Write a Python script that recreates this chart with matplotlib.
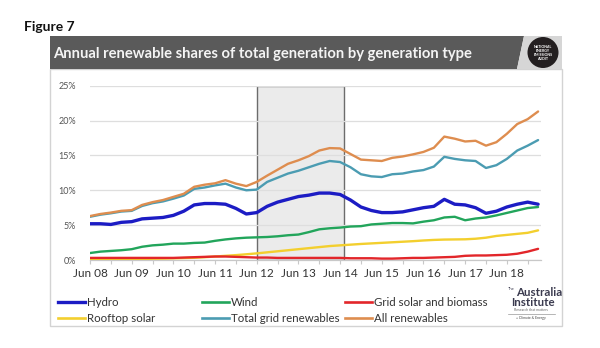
import numpy as np
import matplotlib
matplotlib.use("Agg")
import matplotlib.pyplot as plt
from matplotlib.patches import Polygon, Rectangle, Circle
from matplotlib.lines import Line2D

plt.rcParams['font.family'] = ['Lato', 'DejaVu Sans']

# quarterly points, Jun 08 .. Mar 19 (years after Jun 2008)
quarters = np.arange(44) / 4

hydro = [5.2, 5.2, 5.1, 5.4, 5.5, 5.9, 6.0, 6.1, 6.4, 7.0,
         7.9, 8.1, 8.1, 8.0, 7.4, 6.6, 6.8, 7.7, 8.3, 8.7,
         9.1, 9.3, 9.6, 9.6, 9.4, 8.6, 7.6, 7.1, 6.8, 6.8,
         6.9, 7.2, 7.5, 7.7, 8.7, 8.0, 7.9, 7.5, 6.7, 7.0,
         7.6, 8.0, 8.3, 8.0]
wind = [1.0, 1.2, 1.3, 1.4, 1.55, 1.9, 2.1, 2.2, 2.35, 2.35,
        2.45, 2.5, 2.75, 2.95, 3.1, 3.2, 3.25, 3.3, 3.4, 3.55,
        3.65, 4.0, 4.4, 4.55, 4.65, 4.8, 4.85, 5.1, 5.2, 5.3,
        5.3, 5.25, 5.5, 5.7, 6.1, 6.2, 5.7, 5.95, 6.1, 6.4,
        6.75, 7.1, 7.45, 7.6]
grid_solar = [0.3, 0.3, 0.3, 0.3, 0.3, 0.3, 0.3, 0.3, 0.3, 0.35,
              0.4, 0.45, 0.5, 0.5, 0.45, 0.4, 0.35, 0.35, 0.3, 0.3,
              0.3, 0.3, 0.3, 0.3, 0.3, 0.25, 0.25, 0.25, 0.2, 0.2,
              0.25, 0.3, 0.3, 0.35, 0.4, 0.45, 0.6, 0.65, 0.65, 0.7,
              0.75, 0.9, 1.2, 1.6]
rooftop = [0.05, 0.06, 0.08, 0.1, 0.12, 0.15, 0.18, 0.2, 0.24, 0.28,
           0.32, 0.4, 0.5, 0.6, 0.7, 0.82, 0.95, 1.1, 1.25, 1.4,
           1.55, 1.7, 1.85, 2.0, 2.1, 2.2, 2.3, 2.38, 2.46, 2.54,
           2.62, 2.7, 2.8, 2.88, 2.93, 2.95, 2.97, 3.05, 3.2, 3.45,
           3.6, 3.75, 3.9, 4.25]
total_grid = [6.2, 6.5, 6.7, 6.95, 7.05, 7.75, 8.15, 8.4, 8.8, 9.25,
              10.2, 10.4, 10.7, 10.95, 10.4, 10.0, 10.1, 11.2, 11.8, 12.4,
              12.8, 13.3, 13.8, 14.2, 14.05, 13.3, 12.3, 12.0, 11.9, 12.3,
              12.4, 12.7, 12.9, 13.4, 14.8, 14.5, 14.3, 14.2, 13.2, 13.6,
              14.5, 15.7, 16.4, 17.2]
all_renew = [6.3, 6.6, 6.8, 7.05, 7.15, 7.9, 8.3, 8.6, 9.05, 9.5,
             10.5, 10.8, 11.0, 11.45, 10.95, 10.6, 11.2, 12.1, 12.95, 13.8,
             14.3, 14.9, 15.7, 16.05, 16.0, 15.2, 14.4, 14.3, 14.2, 14.65,
             14.85, 15.15, 15.5, 16.1, 17.7, 17.4, 17.0, 17.1, 16.4, 16.9,
             18.1, 19.5, 20.2, 21.3]

year_labels = ["Jun 08", "Jun 09", "Jun 10", "Jun 11", "Jun 12", "Jun 13",
               "Jun 14", "Jun 15", "Jun 16", "Jun 17", "Jun 18"]
pct_ticks = [0, 5, 10, 15, 20, 25]
highlight = (4.0, 6.1)  # Jun 12 - mid 2014

series = [
    ("Hydro", hydro, "#1c1cc4", 2.4),
    ("Wind", wind, "#22a55b", 1.7),
    ("Grid solar and biomass", grid_solar, "#e2262a", 1.7),
    ("Rooftop solar", rooftop, "#f3cf2e", 1.7),
    ("Total grid renewables", total_grid, "#4b9cb2", 1.7),
    ("All renewables", all_renew, "#de8d4f", 1.7),
]

fig = plt.figure(figsize=(6, 3.48), dpi=100)

# page furniture drawn in pixel units
bg = fig.add_axes([0, 0, 1, 1])
bg.set_xlim(0, 600)
bg.set_ylim(348, 0)
bg.axis("off")

bg.text(24, 27, "Figure 7", fontsize=10, fontweight="bold", color="#111111",
        va="center", ha="left")
bg.add_patch(Rectangle((50, 69), 512, 257, facecolor="white",
                       edgecolor="#d3d3d3", lw=1))
bg.add_patch(Polygon([(50, 36), (524, 36), (517, 69), (50, 69)],
                     closed=True, facecolor="#5a5a5a", edgecolor="none"))
bg.add_patch(Polygon([(524, 36), (562, 36), (562, 69), (517, 69)],
                     closed=True, facecolor="#d6d6d6", edgecolor="none"))
bg.add_patch(Circle((543, 52.5), 15.5, facecolor="#231f20", edgecolor="none"))
bg.text(543, 52.5, "NATIONAL\nENERGY\nEMISSIONS\nAUDIT", fontsize=2.6,
        color="white", fontweight="bold", ha="center", va="center",
        linespacing=1.0)
bg.text(53, 54, "Annual renewable shares of total generation by generation type",
        fontsize=10.6, fontweight="bold", color="#f4f4f4", ha="left", va="center")

# legend, three columns by two rows
legend_cols = [58, 202, 345]
legend_rows = [302, 318]
for i, (name, _, color, _) in enumerate(series):
    x0 = legend_cols[i % 3]
    y0 = legend_rows[i // 3]
    bg.add_line(Line2D([x0, x0 + 27], [y0, y0], color=color,
                       lw=2.4 if name == "Hydro" else 1.9))
    bg.text(x0 + 29, y0, name, fontsize=8.3, color="#333333",
            ha="left", va="center")

# institute mark
bg.text(516, 293, "Australia", fontsize=8.3, fontweight="bold",
        color="#3b3b4f", ha="left", va="center")
bg.text(508, 289, "The", fontsize=3, color="#3b3b4f", ha="left", va="center")
bg.text(555, 303, "Institute", fontsize=8.3, fontweight="bold",
        color="#3b3b4f", ha="right", va="center")
bg.text(531, 310, "Research that matters", fontsize=2.5, color="#666666",
        ha="center", va="center")
bg.add_line(Line2D([508, 555], [314, 314], color="#999999", lw=0.5))
bg.text(531, 318, "+ Climate & Energy", fontsize=2.5, color="#444444",
        ha="center", va="center")

# chart
ax = fig.add_axes([90 / 600, 88 / 348, 451 / 600, 174.3 / 348])
ax.set_facecolor("none")
ax.set_xlim(0, 10.82)
ax.set_ylim(0, 25)

ax.set_yticks(pct_ticks)
ax.set_yticklabels([f"{p}%" for p in pct_ticks])
ax.grid(axis="y", color="#dedede", lw=0.9, zorder=0)
ax.tick_params(axis="y", length=0, pad=10, labelsize=6.5, labelcolor="#555555")

ax.set_xticks(np.arange(len(year_labels)))
ax.set_xticklabels(year_labels)
ax.set_xticks(np.arange(0.5, 10.6, 1), minor=True)
ax.tick_params(axis="x", which="both", length=3, color="#c8c8c8", width=0.8,
               direction="out", pad=3, labelsize=8.5, labelcolor="#333333")

for side in ["top", "right", "left"]:
    ax.spines[side].set_visible(False)
ax.spines["bottom"].set_color("#c8c8c8")
ax.spines["bottom"].set_linewidth(0.9)

ax.add_patch(Rectangle((highlight[0], 0), highlight[1] - highlight[0], 25,
                       facecolor="#e6e6e6", alpha=0.8, edgecolor="#4a4a4a",
                       lw=1.0, zorder=1))

draw_order = ["Rooftop solar", "Grid solar and biomass", "Wind", "Hydro",
              "Total grid renewables", "All renewables"]
for name, values, color, lw in series:
    ax.plot(quarters, values, color=color, lw=lw, zorder=3 + draw_order.index(name),
            solid_capstyle="round")

fig.savefig("out.png", dpi=100)
